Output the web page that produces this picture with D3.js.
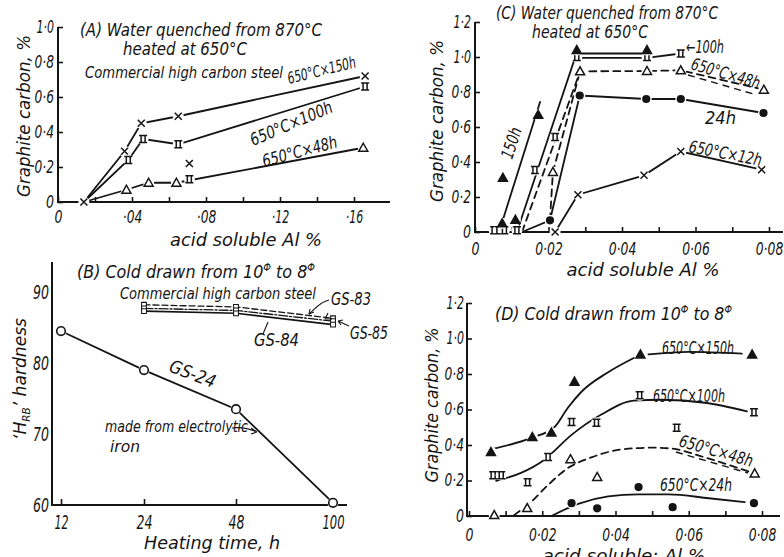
<!DOCTYPE html>
<html><head><meta charset="utf-8">
<script src="https://cdn.jsdelivr.net/npm/d3@7"></script>
<style>
body{margin:0;background:#fff}
svg text{font-family:"DejaVu Sans",sans-serif;font-style:italic;fill:#141414}
</style></head>
<body><svg id="c" width="784" height="557"></svg>
<script>
// ================= DATA =================
// Panel A : water quenched, commercial high carbon steel
const aXTickVals = [0, 0.02, 0.04, 0.06, 0.08, 0.10, 0.12, 0.14, 0.16];
const aXLabelVals = [0, 0.04, 0.08, 0.12, 0.16];
const aXLabelText = ["0", "·04", "·08", "·12", "·16"];
const aYTickVals = [0, 0.2, 0.4, 0.6, 0.8, 1.0];
const aYLabelText = ["0", "0·2", "0·4", "0·6", "0·8", "1·0"];
const a150X = [0.014, 0.036, 0.045, 0.065, 0.166];
const a150Y = [0, 0.29, 0.45, 0.49, 0.72];
const a100X = [0.014, 0.038, 0.046, 0.065, 0.166];
const a100Y = [0, 0.24, 0.36, 0.33, 0.66];
const a48X = [0.014, 0.037, 0.049, 0.064, 0.165];
const a48Y = [0, 0.07, 0.11, 0.11, 0.31];
const aStrayX = [0.071, 0.071];
const aStrayY = [0.22, 0.13];
const aStrayType = ["x", "ii"];

// Panel B : HRB hardness vs heating time
const bHours = [12, 24, 48, 100];
const bYTickVals = [60, 70, 80, 90];
const gs24 = [84.5, 79.0, 73.5, 60.3];
const gsHours = [24, 48, 100];
const gs83 = [88.2, 87.9, 86.3];
const gs85 = [87.7, 87.4, 85.9];
const gs84 = [87.3, 87.0, 85.4];

// Panel C : water quenched, heated at 650C
const cXTickVals = [0, 0.01, 0.02, 0.03, 0.04, 0.05, 0.06, 0.07, 0.08];
const cXLabelVals = [0, 0.02, 0.04, 0.06, 0.08];
const cXLabelText = ["0", "0·02", "0·04", "0·06", "0·08"];
const cYTickVals = [0, 0.2, 0.4, 0.6, 0.8, 1.0, 1.2];
const cYLabelText = ["0", "0·2", "0·4", "0·6", "0·8", "1·0", "1·2"];
const c150X = [0.0074, 0.011, 0.0076, 0.0172, 0.0277, 0.0468];
const c150Y = [0.05, 0.07, 0.31, 0.67, 1.04, 1.04];
const c150LineX = [0.0074, 0.0177];
const c150LineY = [0.057, 0.743];
const c150TopX = [0.0277, 0.0468];
const c150TopY = [1.02, 1.02];
const c100X = [0.0052, 0.0065, 0.008, 0.0114, 0.0163, 0.0218, 0.0277, 0.0468, 0.056];
const c100Y = [0.01, 0.01, 0.01, 0.01, 0.354, 0.543, 1.0, 1.0, 1.02];
const c100LineX = [0.0114, 0.0272, 0.0468, 0.056];
const c100LineY = [0.0, 0.995, 0.995, 1.02];
const c48X = [0.0212, 0.0286, 0.0468, 0.056, 0.0786];
const c48Y = [0.343, 0.918, 0.92, 0.924, 0.813];
const c48LineX = [0.0128, 0.0286, 0.0468, 0.056, 0.0786];
const c48LineY = [0, 0.918, 0.92, 0.924, 0.813];
const c48Line2X = [0.0204, 0.0212, 0.0286];
const c48Line2Y = [0.067, 0.343, 0.918];
const c24X = [0.0204, 0.0285, 0.0466, 0.056, 0.0785];
const c24Y = [0.067, 0.78, 0.76, 0.76, 0.68];
const c24LineX = [0.0128, 0.0204, 0.0285, 0.0466, 0.056, 0.0785];
const c24LineY = [0, 0.067, 0.78, 0.76, 0.76, 0.68];
const c12X = [0.0218, 0.028, 0.046, 0.056, 0.078];
const c12Y = [0.0, 0.213, 0.324, 0.46, 0.356];

// Panel D : cold drawn
const dXTickVals = [0, 0.01, 0.02, 0.03, 0.04, 0.05, 0.06, 0.07, 0.08];
const dXLabelVals = [0, 0.02, 0.04, 0.06, 0.08];
const dXLabelText = ["0", "0·02", "0·04", "0·06", "0·08"];
const dYTickVals = [0, 0.2, 0.4, 0.6, 0.8, 1.0, 1.2];
const dYLabelText = ["0", "0·2", "0·4", "0·6", "0·8", "1·0", "1·2"];
const d150X = [0.006, 0.0173, 0.0225, 0.0288, 0.0468, 0.0773];
const d150Y = [0.36, 0.445, 0.47, 0.757, 0.91, 0.91];
const d150CX = [0.0055, 0.017, 0.0233, 0.027, 0.0307, 0.038, 0.045];
const d150CY = [0.373, 0.44, 0.50, 0.61, 0.70, 0.81, 0.89];
const d150C2X = [0.049, 0.06, 0.0745];
const d150C2Y = [0.91, 0.925, 0.915];
const d100X = [0.0066, 0.0088, 0.016, 0.0216, 0.028, 0.0348, 0.0466, 0.0567, 0.0778];
const d100Y = [0.23, 0.23, 0.19, 0.333, 0.53, 0.525, 0.68, 0.497, 0.585];
const d100CX = [0.0074, 0.0142, 0.0205, 0.028, 0.036, 0.045, 0.0526, 0.0644, 0.0759];
const d100CY = [0.198, 0.243, 0.316, 0.457, 0.57, 0.65, 0.655, 0.638, 0.59];
const d48X = [0.0069, 0.0159, 0.0277, 0.035, 0.078];
const d48Y = [0.005, 0.045, 0.32, 0.22, 0.24];
const d48CX = [0.0123, 0.017, 0.0216, 0.027, 0.0334, 0.0416, 0.05, 0.0553, 0.0644, 0.0764];
const d48CY = [0.005, 0.08, 0.175, 0.27, 0.33, 0.375, 0.385, 0.38, 0.33, 0.25];
const d24X = [0.028, 0.035, 0.0463, 0.0556, 0.0778];
const d24Y = [0.072, 0.043, 0.163, 0.05, 0.072];
const d24CX = [0.0225, 0.0298, 0.038, 0.0463, 0.0545, 0.0655, 0.0753];
const d24CY = [0, 0.068, 0.11, 0.122, 0.122, 0.10, 0.078];

// ================= DRAWING =================
const INK = "#141414";
const svg = d3.select("#c");
svg.append("rect").attr("width", 784).attr("height", 557).attr("fill", "#fff");

function markerPath(type) {
  switch (type) {
    case "x": return "M-3.5,-3.5L3.5,3.5M3.5,-3.5L-3.5,3.5";
    case "ii": return "M-4,-3.5H4M-2,-3.5V3.5M2,-3.5V3.5M-4,3.5H4";
    case "tri": case "otri": return "M0,-4.5L4.5,3.5H-4.5Z";
    case "sq": return "M-3,-3H3V3H-3Z";
  }
}
function markers(g, x, y, xs, ys, type) {
  xs.forEach((v, i) => {
    const t = Array.isArray(type) ? type[i] : type;
    const px = x(v), py = y(ys[i]);
    g.append("circle").attr("cx", px).attr("cy", py).attr("r", 5.5).attr("fill", "#fff");
    if (t === "dot" || t === "ocirc") {
      g.append("circle").attr("cx", px).attr("cy", py).attr("r", t === "dot" ? 3.3 : 4.3)
        .attr("fill", t === "dot" ? INK : "#fff").attr("stroke", INK).attr("stroke-width", 1.6);
    } else {
      g.append("path").attr("d", markerPath(t)).attr("transform", `translate(${px},${py})`)
        .attr("fill", t === "tri" ? INK : (t === "otri" || t === "sq" ? "#fff" : "none"))
        .attr("stroke", INK).attr("stroke-width", 1.5);
    }
  });
}
function series(g, x, y, xs, ys, o = {}) {
  const pts = xs.map((v, i) => [x(v), y(ys[i])]);
  g.append("path").attr("d", d3.line().curve(o.curve || d3.curveLinear)(pts))
    .attr("fill", "none").attr("stroke", INK).attr("stroke-width", o.w || 1.8)
    .attr("stroke-dasharray", o.dash || null).attr("stroke-linecap", "round");
}
function txt(g, s, x, y, o = {}) {
  const t = g.append("text").attr("x", x).attr("y", y).text(s)
    .attr("font-size", o.size || 17).attr("text-anchor", o.anchor || "start");
  if (o.rot) t.attr("transform", `rotate(${o.rot},${x},${y})`);
  if (o.len) t.attr("textLength", o.len).attr("lengthAdjust", "spacingAndGlyphs");
  return t;
}
function labelFmt(vals, texts) {
  return v => { const i = vals.findIndex(u => Math.abs(u - v) < 1e-9); return i >= 0 ? texts[i] : ""; };
}
function styleAxis(a, size) {
  a.select(".domain").remove();
  a.attr("font-family", null);
  a.selectAll(".tick line").attr("stroke", INK).attr("stroke-width", 1.6);
  a.selectAll(".tick text").attr("font-size", size).attr("fill", INK).each(function () {
    const s = this.textContent;
    if (!s) return;
    const L = [...s].reduce((acc, c) => acc + (c === "1" ? 6 : c === "·" ? 3.5 : 8), 0);
    d3.select(this).attr("textLength", L).attr("lengthAdjust", "spacingAndGlyphs");
  });
}
function axisLines(g, x0, x1, yb, y0, y1, xl) {
  g.append("line").attr("x1", x0).attr("x2", x1).attr("y1", yb).attr("y2", yb)
    .attr("stroke", INK).attr("stroke-width", 2);
  g.append("line").attr("x1", xl).attr("x2", xl).attr("y1", y0).attr("y2", y1)
    .attr("stroke", INK).attr("stroke-width", 2);
}
function phiTitle(g, lead, x, y, len) {
  const t = g.append("text").attr("x", x).attr("y", y).attr("font-size", 18)
    .attr("textLength", len).attr("lengthAdjust", "spacingAndGlyphs");
  t.append("tspan").text(lead);
  t.append("tspan").attr("font-size", 11).attr("dy", -7).text("Φ");
  t.append("tspan").attr("dy", 7).text(" to 8");
  t.append("tspan").attr("font-size", 11).attr("dy", -7).text("Φ");
  return t;
}

// ---------- Panel A ----------
{
  const g = svg.append("g");
  const x = d3.scaleLinear().domain([0, 0.16]).range([58, 354]);
  const y = d3.scaleLinear().domain([0, 1.0]).range([202, 27]);
  axisLines(g, 58, 390, y(0), y(0) + 1, y(1.0), 58);
  styleAxis(g.append("g").attr("transform", `translate(0,${y(0)})`)
    .call(d3.axisBottom(x).tickValues(aXTickVals).tickSize(-5).tickSizeOuter(0).tickPadding(9)
      .tickFormat(labelFmt(aXLabelVals, aXLabelText))), 17);
  styleAxis(g.append("g").attr("transform", `translate(58,0)`)
    .call(d3.axisLeft(y).tickValues(aYTickVals).tickSize(-5).tickSizeOuter(0).tickPadding(4)
      .tickFormat((v, i) => aYLabelText[i])), 17);

  series(g, x, y, a150X, a150Y);
  series(g, x, y, a100X, a100Y);
  series(g, x, y, a48X, a48Y);
  markers(g, x, y, a150X, a150Y, "x");
  markers(g, x, y, a100X.slice(1), a100Y.slice(1), "ii");
  markers(g, x, y, a48X.slice(1), a48Y.slice(1), "otri");
  markers(g, x, y, aStrayX, aStrayY, aStrayType);

  txt(g, "(A)  Water quenched from 870°C", 80, 36, { size: 17, len: 242 });
  txt(g, "heated at 650°C", 123, 55, { size: 17, len: 124 });
  txt(g, "Commercial high carbon steel", 85, 78, { size: 16, len: 198 });
  txt(g, "650°C×150h", 289, 84, { size: 16, rot: -14, len: 70 });
  txt(g, "650°C×100h", 253, 146, { size: 17, rot: -23, len: 88 });
  txt(g, "650°C×48h", 264, 167, { size: 17, rot: -15, len: 77 });
  txt(g, "Graphite carbon, %", 30, 116, { size: 17, rot: -90, anchor: "middle", len: 162 });
  txt(g, "acid soluble Al %", 246, 246, { size: 17, anchor: "middle", len: 152 });
}

// ---------- Panel B ----------
{
  const g = svg.append("g");
  const x = d3.scaleLinear().domain(bHours).range([61, 144, 236, 333]);
  const y = d3.scaleLinear().domain([60, 90]).range([505, 292]);
  axisLines(g, 52, 347, y(60), 506, 262, 52);
  styleAxis(g.append("g").attr("transform", `translate(0,${y(60)})`)
    .call(d3.axisBottom(x).tickValues(bHours).tickSize(-6).tickSizeOuter(0).tickPadding(11)
      .tickFormat(d => String(d))), 19);
  styleAxis(g.append("g").attr("transform", `translate(52,0)`)
    .call(d3.axisLeft(y).tickValues(bYTickVals).tickSize(0).tickPadding(3)
      .tickFormat(d => String(d))), 19);

  series(g, x, y, bHours, gs24);
  series(g, x, y, gsHours, gs83, { w: 1.3, dash: "6,3" });
  series(g, x, y, gsHours, gs85, { w: 1.3, dash: "9,2,2,2" });
  series(g, x, y, gsHours, gs84, { w: 1.6 });
  markers(g, x, y, bHours, gs24, "ocirc");
  [gs83, gs85, gs84].forEach(s => {
    gsHours.forEach((h, i) => {
      g.append("path").attr("d", markerPath("sq")).attr("transform", `translate(${x(h)},${y(s[i])}) scale(0.8)`)
        .attr("fill", "#fff").attr("stroke", INK).attr("stroke-width", 1.3);
    });
  });

  phiTitle(g, "(B)  Cold drawn from 10", 77, 278, 238);
  txt(g, "Commercial high carbon steel", 120, 299, { size: 16, len: 196 });
  txt(g, "GS-83", 331, 305, { size: 17, len: 40 });
  txt(g, "GS-85", 350, 339, { size: 17, len: 38 });
  txt(g, "GS-84", 254, 346, { size: 17, len: 45 });
  txt(g, "GS-24", 168, 371, { size: 18, rot: 21, len: 48 });
  txt(g, "made from electrolytic", 105, 432, { size: 16, len: 143 });
  txt(g, "iron", 110, 452, { size: 16, len: 30 });
  txt(g, "Heating time, h", 212, 549, { size: 18, anchor: "middle", len: 136 });
  const yl = g.append("text").attr("x", 26).attr("y", 379).attr("font-size", 18)
    .attr("text-anchor", "middle").attr("transform", "rotate(-90,26,379)")
    .attr("textLength", 122).attr("lengthAdjust", "spacingAndGlyphs");
  yl.append("tspan").text("‘H");
  yl.append("tspan").attr("font-size", 11).attr("dy", 4).text("RB");
  yl.append("tspan").attr("dy", -4).text("’  hardness");
  // leaders
  const ld = (d) => g.append("path").attr("d", d).attr("fill", "none").attr("stroke", INK).attr("stroke-width", 1.1);
  ld("M329,300 C320,302 316,308 309,314"); ld("M309,314 l1,-5 M309,314 l5,-2");
  ld("M325,319 l3,-6 M325,319 h7");
  ld("M349,326 L338,321 M338,321 l5,-1 M338,321 l3,4");
  ld("M263,334 L268,322");
  ld("M232,428 C240,427 248,428 257,432 M257,432 l-6,-4 M257,432 l-6,2");
}

// ---------- Panel C ----------
{
  const g = svg.append("g");
  const x = d3.scaleLinear().domain([0, 0.08]).range([475, 769]);
  const y = d3.scaleLinear().domain([0, 1.2]).range([232, 22]);
  axisLines(g, 475, 783, y(0), y(0) + 1, y(1.2), 475);
  styleAxis(g.append("g").attr("transform", `translate(0,${y(0)})`)
    .call(d3.axisBottom(x).tickValues(cXTickVals).tickSize(-5).tickSizeOuter(0).tickPadding(11)
      .tickFormat(labelFmt(cXLabelVals, cXLabelText))), 17);
  styleAxis(g.append("g").attr("transform", `translate(475,0)`)
    .call(d3.axisLeft(y).tickValues(cYTickVals).tickSize(-5).tickSizeOuter(0).tickPadding(4)
      .tickFormat((v, i) => cYLabelText[i])), 17);

  series(g, x, y, c150LineX, c150LineY);
  series(g, x, y, c150TopX, c150TopY);
  series(g, x, y, c100LineX, c100LineY);
  series(g, x, y, c48LineX, c48LineY, { dash: "7,5" });
  series(g, x, y, c48Line2X, c48Line2Y, { dash: "7,5" });
  series(g, x, y, c24LineX, c24LineY);
  series(g, x, y, c12X, c12Y);
  markers(g, x, y, c100X, c100Y, "ii");
  markers(g, x, y, c150X, c150Y, "tri");
  markers(g, x, y, c48X, c48Y, "otri");
  markers(g, x, y, c24X, c24Y, "dot");
  markers(g, x, y, c12X, c12Y, "x");

  txt(g, "(C)  Water quenched from 870°C", 496, 19, { size: 17, len: 222 });
  txt(g, "heated at 650°C", 532, 38, { size: 17, len: 116 });
  txt(g, "150h", 512, 160, { size: 17, rot: -72, len: 32 });
  txt(g, "←100h", 686, 53, { size: 17, len: 38 });
  txt(g, "650°C×48h", 690, 69, { size: 17, rot: 16.5, len: 71 });
  g.append("line").attr("x1", 688).attr("y1", 75).attr("x2", 757).attr("y2", 95)
    .attr("stroke", INK).attr("stroke-width", 1.4).attr("stroke-dasharray", "7,5");
  txt(g, "24h", 705, 124, { size: 17, len: 31 });
  txt(g, "650°C×12h", 688, 152, { size: 17, rot: 11, len: 74 });
  txt(g, "Graphite carbon, %", 443, 121, { size: 17, rot: -90, anchor: "middle", len: 162 });
  txt(g, "acid soluble Al %", 643, 276, { size: 17, anchor: "middle", len: 153 });
}

// ---------- Panel D ----------
{
  const g = svg.append("g");
  const x = d3.scaleLinear().domain([0, 0.08]).range([469, 762]);
  const y = d3.scaleLinear().domain([0, 1.2]).range([516, 303]);
  axisLines(g, 467, 780, y(0), y(0) + 1, y(1.2), 467);
  styleAxis(g.append("g").attr("transform", `translate(0,${y(0)})`)
    .call(d3.axisBottom(x).tickValues(dXTickVals).tickSize(-5).tickSizeOuter(0).tickPadding(13)
      .tickFormat(labelFmt(dXLabelVals, dXLabelText))), 17);
  styleAxis(g.append("g").attr("transform", `translate(467,0)`)
    .call(d3.axisLeft(y).tickValues(dYTickVals).tickSize(-5).tickSizeOuter(0).tickPadding(3)
      .tickFormat((v, i) => dYLabelText[i])), 17);

  const cv = { curve: d3.curveMonotoneX };
  series(g, x, y, d150CX, d150CY, cv);
  series(g, x, y, d150C2X, d150C2Y, cv);
  series(g, x, y, d100CX, d100CY, cv);
  series(g, x, y, d48CX, d48CY, { curve: d3.curveMonotoneX, dash: "7,5" });
  series(g, x, y, d24CX, d24CY, cv);
  markers(g, x, y, d150X, d150Y, "tri");
  markers(g, x, y, d100X, d100Y, "ii");
  markers(g, x, y, d48X, d48Y, "otri");
  markers(g, x, y, d24X, d24Y, "dot");

  phiTitle(g, "(D)  Cold drawn from 10", 495, 320, 237);
  txt(g, "650°C×150h", 662, 354, { size: 17, len: 72 });
  txt(g, "650°C×100h", 653, 402, { size: 17, len: 72 });
  txt(g, "650°C×48h", 678, 446, { size: 17, rot: 16, len: 76 });
  g.append("line").attr("x1", 676).attr("y1", 452).attr("x2", 748).attr("y2", 473)
    .attr("stroke", INK).attr("stroke-width", 1.4).attr("stroke-dasharray", "7,5");
  txt(g, "650°C×24h", 660, 491, { size: 17, len: 72 });
  txt(g, "Graphite carbon, %", 438, 405, { size: 17, rot: -90, anchor: "middle", len: 155 });
  txt(g, "acid soluble: Al %", 624, 562, { size: 18, anchor: "middle", len: 163 });
}
</script>
</body></html>
